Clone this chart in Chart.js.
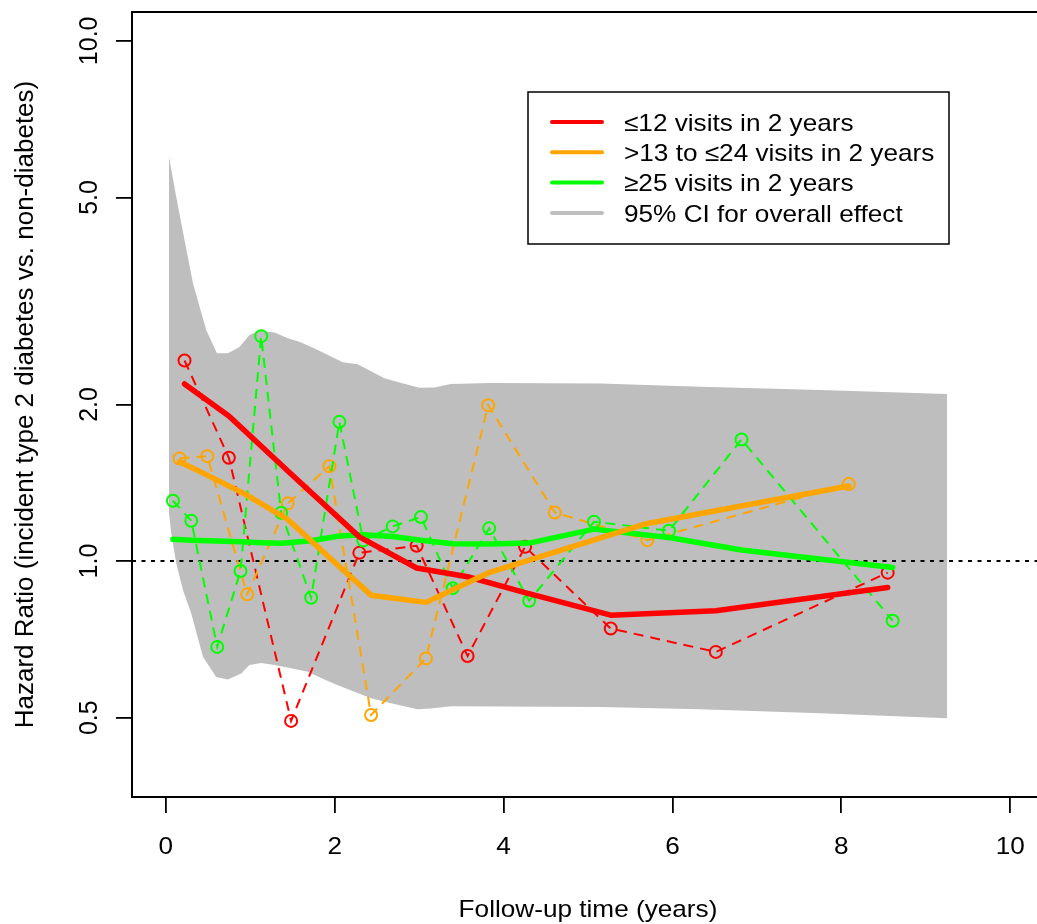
<!DOCTYPE html>
<html><head><meta charset="utf-8">
<script src="https://cdn.jsdelivr.net/npm/chart.js@4.4.0/dist/chart.umd.min.js"></script>
<style>
html,body{margin:0;padding:0;overflow:hidden;background:#fff;width:1037px;height:924px}
#wrap{position:absolute;left:0;top:0;width:1060px;height:924px}
</style>
</head><body><div id="wrap"><canvas id="c" width="1060" height="924"></canvas></div>
<script>
// ---------- data ----------
const seriesNames = ['\u226412 visits in 2 years', '>13 to \u226424 visits in 2 years', '\u226525 visits in 2 years', '95% CI for overall effect'];
const seriesColors = ['#FF0000', '#FFA500', '#00FF00', '#BEBEBE'];

const xTicks = [0, 2, 4, 6, 8, 10];
const yTicks = [0.5, 1, 2, 5, 10];
const yTickLabels = ['0.5', '1.0', '2.0', '5.0', '10.0'];
const xTitle = 'Follow-up time (years)';
const yTitle = 'Hazard Ratio (incident type 2 diabetes vs. non-diabetes)';
const refHR = 1;

// 95% CI band
const ciUpperX  = [0.038, 0.124, 0.222, 0.322, 0.479, 0.606, 0.736, 0.873, 0.991, 1.11, 1.287, 1.445, 1.582, 1.8, 2.096, 2.273, 2.588, 2.746, 3.002, 3.179, 3.377, 3.85, 5.151, 6.334, 7.753, 9.251];
const ciUpperHR = [5.98, 5.01, 4.14, 3.42, 2.78, 2.51, 2.51, 2.58, 2.72, 2.77, 2.75, 2.68, 2.64, 2.545, 2.41, 2.39, 2.245, 2.21, 2.153, 2.157, 2.189, 2.2, 2.195, 2.163, 2.132, 2.094];
const ciLowerX  = [0.038, 0.065, 0.124, 0.203, 0.302, 0.44, 0.597, 0.736, 0.893, 0.991, 1.13, 1.287, 1.484, 1.682, 1.878, 2.037, 2.273, 2.431, 2.667, 2.983, 3.14, 3.377, 5.151, 6.334, 7.753, 9.251];
const ciLowerHR = [1.237, 1.13, 0.99, 0.88, 0.793, 0.655, 0.599, 0.592, 0.608, 0.631, 0.637, 0.631, 0.622, 0.613, 0.592, 0.577, 0.558, 0.545, 0.533, 0.519, 0.521, 0.526, 0.524, 0.519, 0.51, 0.499];

// <=12 visits
const lowX        = [0.222, 0.747, 1.484, 2.292, 2.971, 3.574, 4.255, 5.269, 6.514, 8.549];
const lowHR       = [2.43, 1.58, 0.493, 1.037, 1.07, 0.657, 1.065, 0.742, 0.669, 0.95];
const lowSmoothHR = [2.19, 1.9, 1.47, 1.113, 0.97, 0.933, 0.87, 0.787, 0.803, 0.89];

// >13 to <=24 visits
const midX        = [0.163, 0.491, 0.964, 1.445, 1.937, 2.431, 3.081, 3.818, 4.607, 5.703, 8.088];
const midHR       = [1.575, 1.591, 0.863, 1.291, 1.522, 0.506, 0.65, 1.994, 1.24, 1.097, 1.406];
const midSmoothHR = [1.552, 1.463, 1.338, 1.202, 1.016, 0.86, 0.833, 0.949, 1.041, 1.181, 1.394];

// >=25 visits
const highX        = [0.085, 0.302, 0.609, 0.885, 1.13, 1.366, 1.721, 2.056, 2.339, 2.687, 3.022, 3.397, 3.83, 4.303, 5.071, 5.959, 6.818, 8.608];
const highHR       = [1.306, 1.195, 0.684, 0.957, 2.706, 1.238, 0.85, 1.852, 1.095, 1.166, 1.215, 0.887, 1.156, 0.839, 1.19, 1.144, 1.713, 0.768];
const highSmoothHR = [1.101, 1.097, 1.093, 1.089, 1.085, 1.082, 1.094, 1.117, 1.124, 1.115, 1.097, 1.08, 1.078, 1.083, 1.152, 1.11, 1.05, 0.972];

// ---------- helpers ----------
const FONT = '"Liberation Sans", Arial, Helvetica, sans-serif';
const pts = (xs, ys) => xs.map((x, i) => ({x: x, y: ys[i]}));

function pointSeries(xs, ys, color, order) {
  return {
    data: pts(xs, ys), borderColor: color, borderWidth: 2, borderDash: [10, 7],
    pointRadius: 6, pointBorderWidth: 2, pointBorderColor: color,
    pointBackgroundColor: 'rgba(0,0,0,0)', pointStyle: 'circle',
    fill: false, tension: 0, order: order
  };
}
function smoothSeries(xs, ys, color, order) {
  return {
    data: pts(xs, ys), borderColor: color, borderWidth: 5.5,
    borderCapStyle: 'round', borderJoinStyle: 'round',
    pointRadius: 0, fill: false, tension: 0, order: order
  };
}

function drawText(ctx, txt, x, y, o) {
  ctx.save();
  ctx.translate(x, y);
  ctx.scale(o.sx || 1, 1);
  if (o.rot) ctx.rotate(o.rot);
  ctx.font = o.size + 'px ' + FONT;
  ctx.textAlign = o.align || 'center';
  ctx.textBaseline = 'alphabetic';
  ctx.fillStyle = '#000';
  ctx.fillText(txt, 0, 0);
  ctx.restore();
}

const decorPlugin = {
  id: 'decor',
  afterDraw(chart) {
    const ctx = chart.ctx, a = chart.chartArea, sx = chart.scales.x, sy = chart.scales.y;
    // plot box
    ctx.save();
    ctx.strokeStyle = '#000'; ctx.lineWidth = 2;
    ctx.strokeRect(a.left, a.top, a.right - a.left, a.bottom - a.top);
    ctx.restore();
    // x tick labels
    xTicks.forEach(v => drawText(ctx, String(v), sx.getPixelForValue(v), 853.5, {size: 24, sx: 1.09}));
    // y tick labels (rotated)
    yTicks.forEach((v, i) => drawText(ctx, yTickLabels[i], 96.5, sy.getPixelForValue(v), {size: 25, sx: 1.0, rot: -Math.PI / 2}));
    // axis titles
    drawText(ctx, xTitle, (a.left + a.right) / 2, 917, {size: 24, sx: 1.09});
    drawText(ctx, yTitle, 33, (a.top + a.bottom) / 2, {size: 26, rot: -Math.PI / 2});
    // legend
    const bx = 528, by = 92, bw = 421, bh = 152;
    ctx.save();
    ctx.fillStyle = '#fff'; ctx.fillRect(bx, by, bw, bh);
    ctx.strokeStyle = '#000'; ctx.lineWidth = 1.5; ctx.strokeRect(bx, by, bw, bh);
    seriesNames.forEach((name, i) => {
      const yy = 122 + i * 30.3;
      ctx.beginPath();
      ctx.strokeStyle = seriesColors[i]; ctx.lineWidth = 4; ctx.lineCap = 'round';
      ctx.moveTo(552, yy); ctx.lineTo(602, yy); ctx.stroke();
      drawText(ctx, name, 624, yy + 8.6, {size: 24, sx: 1.09, align: 'left'});
    });
    ctx.restore();
  }
};

new Chart(document.getElementById('c'), {
  type: 'line',
  data: {
    datasets: [
      { data: pts(ciUpperX, ciUpperHR), borderColor: 'rgba(0,0,0,0)', borderWidth: 0, pointRadius: 0,
        backgroundColor: seriesColors[3], fill: '+1', tension: 0, order: 20 },
      { data: pts(ciLowerX, ciLowerHR), borderColor: 'rgba(0,0,0,0)', borderWidth: 0, pointRadius: 0,
        fill: false, tension: 0, order: 20 },
      { data: [{x: -0.4, y: refHR}, {x: 10.4, y: refHR}], borderColor: '#000', borderWidth: 2,
        borderDash: [4, 5.5], pointRadius: 0, fill: false, order: 15 },
      pointSeries(lowX, lowHR, seriesColors[0], 10),
      pointSeries(midX, midHR, seriesColors[1], 9),
      pointSeries(highX, highHR, seriesColors[2], 8),
      smoothSeries(highX, highSmoothHR, seriesColors[2], 3),
      smoothSeries(lowX, lowSmoothHR, seriesColors[0], 2),
      smoothSeries(midX, midSmoothHR, seriesColors[1], 1)
    ]
  },
  options: {
    responsive: false, animation: false, devicePixelRatio: 1,
    parsing: true, normalized: true,
    layout: {padding: {left: 0, top: 12, right: 16, bottom: 0}},
    plugins: {legend: {display: false}, tooltip: {enabled: false}},
    scales: {
      x: {
        type: 'linear', min: -0.4, max: 10.4, bounds: 'data',
        afterBuildTicks: s => { s.ticks = xTicks.map(v => ({value: v})); },
        afterFit: s => { s.height = 127; },
        ticks: {display: false},
        grid: {drawOnChartArea: false, drawTicks: true, tickLength: 16, color: '#000', lineWidth: 1.8},
        border: {display: false}
      },
      y: {
        type: 'logarithmic', min: 0.352, max: 11.36, bounds: 'data',
        afterBuildTicks: s => { s.ticks = yTicks.map(v => ({value: v})); },
        afterFit: s => { s.width = 132; },
        ticks: {display: false},
        grid: {drawOnChartArea: false, drawTicks: true, tickLength: 16, color: '#000', lineWidth: 1.8},
        border: {display: false}
      }
    }
  },
  plugins: [decorPlugin]
});
</script></body></html>
